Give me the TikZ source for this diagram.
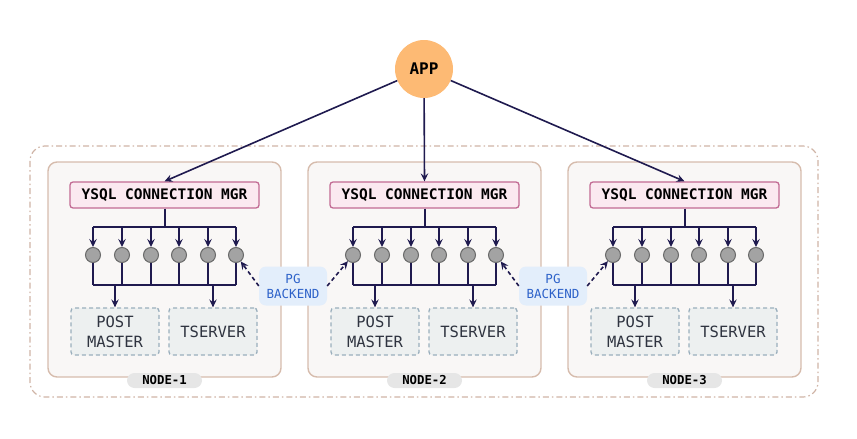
\documentclass[tikz,border=0pt]{standalone}
\usepackage{fontspec}
\setmonofont{DejaVu Sans Mono}
\usetikzlibrary{arrows.meta}
\definecolor{navy}{HTML}{1F1A4F}
\definecolor{appfill}{HTML}{FDBA74}
\definecolor{nodebg}{HTML}{F9F7F6}
\definecolor{nodeborder}{HTML}{D6BCAD}
\definecolor{ysqlfill}{HTML}{FBE9F0}
\definecolor{ysqlborder}{HTML}{C26A93}
\definecolor{circfill}{HTML}{A3A3A3}
\definecolor{circborder}{HTML}{6A6A6A}
\definecolor{boxfill}{HTML}{EDF0F0}
\definecolor{boxborder}{HTML}{9AAFBD}
\definecolor{pgfill}{HTML}{E3EEFB}
\definecolor{pgtext}{HTML}{2D62C9}
\definecolor{labfill}{HTML}{E6E6E6}
\definecolor{outerc}{HTML}{CFB4A6}
\definecolor{textdark}{HTML}{2F3440}
\tikzset{
  outerbox/.style={draw=outerc, line width=1.2pt, dash pattern=on 6pt off 3pt on 1.5pt off 3pt, rounded corners=15pt},
  nodebox/.style={draw=nodeborder, fill=nodebg, line width=1.4pt, rounded corners=9pt},
  appnode/.style={circle, fill=appfill, minimum size=58pt, inner sep=0pt, font=\fontsize{16}{18}\ttfamily\bfseries},
  ysqlnode/.style={draw=ysqlborder, fill=ysqlfill, line width=1.3pt, rounded corners=3pt, minimum width=189pt, minimum height=26pt, inner sep=0pt, font=\fontsize{14.5}{17}\ttfamily\bfseries},
  circnode/.style={circle, draw=circborder, fill=circfill, line width=1pt, minimum size=15pt, inner sep=0pt},
  procbox/.style={draw=boxborder, fill=boxfill, dash pattern=on 4pt off 3pt, line width=1.3pt, rounded corners=3pt, minimum width=88pt, minimum height=47pt, inner sep=0pt, align=center, text=textdark, font=\fontsize{15.5}{20}\ttfamily},
  pgnode/.style={fill=pgfill, rounded corners=7pt, minimum width=68pt, minimum height=39pt, inner sep=0pt, align=center, text=pgtext, font=\fontsize{12.5}{15}\ttfamily},
  labnode/.style={fill=labfill, rounded corners=7.5pt, minimum width=75pt, minimum height=15pt, inner sep=0pt, font=\fontsize{12.3}{14}\ttfamily\bfseries},
  conn/.style={draw=navy, line width=1.6pt},
  arr/.style={conn, -{Stealth[length=8pt,width=7.5pt,inset=3pt]}},
  dasharr/.style={arr, dash pattern=on 4pt off 3pt},
}
\begin{document}
\begin{tikzpicture}[x=1pt,y=-1pt]
\useasboundingbox (0,0) rectangle (857,439);
\draw[outerbox] (30,146) rectangle (818,397);
\node[appnode] (app) at (424,69) {APP};
\foreach \i/\dx in {1/0,2/260,3/520} {
  \begin{scope}[xshift=\dx]
    \draw[nodebox] (48,162) rectangle (281,377);
    \node[labnode] (lab\i) at (164.5,380.5) {NODE-\i};
    \node[ysqlnode] (y\i) at (164.5,195) {YSQL CONNECTION MGR};
    \coordinate (tb\i) at (165,227);
    \coordinate (bb\i) at (165,285);
    \foreach \k/\cx in {1/93,2/122,3/151,4/179,5/208,6/236} {
      \node[circnode] (c\i\k) at (\cx,255) {};
    }
    \node[procbox] (pm\i) at (115,331.5) {POST\\MASTER};
    \node[procbox] (ts\i) at (213,331.5) {TSERVER};
  \end{scope}
  \draw[conn] (y\i.south -| tb\i) -- (tb\i);
  \draw[conn] (c\i1.north |- tb\i) -- (c\i6.north |- tb\i);
  \draw[conn] (c\i1.south |- bb\i) -- (c\i6.south |- bb\i);
  \foreach \k in {1,...,6} {
    \draw[arr] (c\i\k.north |- tb\i) -- (c\i\k.north);
    \draw[conn] (c\i\k.south) -- (c\i\k.south |- bb\i);
  }
  \draw[arr] (pm\i.north |- bb\i) -- (pm\i.north);
  \draw[arr] (ts\i.north |- bb\i) -- (ts\i.north);
  \draw[arr] (app) -- (y\i.north);
}
\node[pgnode] (pg1) at (293,286) {PG\\BACKEND};
\node[pgnode] (pg2) at (553,286) {PG\\BACKEND};
\draw[dasharr] (pg1.west) -- (c16);
\draw[dasharr] (pg1.east) -- (c21);
\draw[dasharr] (pg2.west) -- (c26);
\draw[dasharr] (pg2.east) -- (c31);
\end{tikzpicture}
\end{document}
